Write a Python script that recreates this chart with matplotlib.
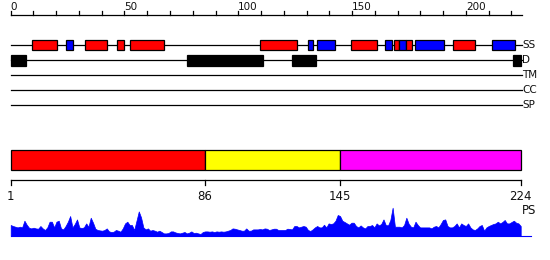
import numpy as np
import matplotlib
matplotlib.use("Agg")
import matplotlib.pyplot as plt
from matplotlib.patches import Rectangle

# secondary structure: (start, end, kind)  H = helix (red), E = strand (blue)
ss_start = [9.5, 24.4, 32.8, 46.8, 52.5, 109.7, 130.8, 134.7, 149.6, 164.6, 168.5, 170.6, 173.8, 177.8, 194.5, 211.6]
ss_end = [20.5, 27.5, 42.4, 49.6, 67.5, 125.6, 132.7, 142.6, 160.8, 167.7, 170.6, 173.8, 176.5, 190.5, 203.9, 221.7]
ss_kind = ["H", "E", "H", "H", "H", "H", "E", "E", "H", "E", "H", "E", "H", "E", "H", "E"]

# disordered regions
dis_start = [0, 77.6, 123.7, 220.7]
dis_end = [6.6, 110.7, 134.0, 224.0]

tracks = ["SS", "D", "TM", "CC", "SP"]

# position segments
seg_bounds = [1, 86, 145, 224]
seg_colors = ["#ff0000", "#ffff00", "#ff00ff"]

# PS score per residue (1..224)
ps_score = [
    10.7, 9.7, 9.0, 8.3, 9.0, 8.3, 15.0, 11.0, 8.0, 7.3,
    8.0, 7.3, 7.0, 9.7, 7.3, 5.7, 8.3, 14.0, 14.0, 8.3,
    14.0, 15.0, 7.3, 6.3, 9.7, 14.0, 19.7, 8.3, 11.7, 16.3,
    8.3, 7.7, 8.3, 12.3, 9.0, 18.0, 13.0, 7.0, 5.7, 5.3,
    5.0, 5.7, 7.3, 4.3, 3.7, 4.0, 5.7, 5.0, 4.0, 7.3,
    12.3, 14.0, 10.7, 10.7, 5.7, 15.0, 24.3, 18.3, 8.3, 6.3,
    7.3, 5.0, 5.7, 5.0, 4.0, 5.0, 3.7, 2.3, 2.3, 2.7,
    4.3, 4.3, 3.3, 2.7, 2.3, 3.0, 3.7, 2.3, 3.0, 4.3,
    2.7, 3.0, 2.3, 1.7, 3.7, 4.3, 4.3, 4.0, 4.3, 3.7,
    4.3, 4.0, 4.3, 4.0, 4.3, 5.0, 5.7, 7.3, 7.0, 6.3,
    5.7, 5.0, 5.0, 7.3, 5.0, 5.0, 6.3, 6.3, 6.3, 6.7,
    6.3, 7.3, 7.0, 5.7, 6.3, 7.0, 7.0, 5.7, 5.7, 5.7,
    5.7, 7.0, 6.7, 6.3, 9.7, 9.7, 8.3, 9.0, 9.7, 9.0,
    5.7, 4.7, 6.3, 8.3, 9.7, 8.3, 8.3, 11.0, 8.3, 12.3,
    11.7, 12.3, 15.0, 20.7, 19.7, 15.0, 13.7, 12.3, 11.0, 13.0,
    13.0, 9.7, 8.3, 10.3, 8.3, 7.3, 9.7, 9.7, 10.7, 8.3,
    12.3, 10.3, 11.7, 16.3, 10.7, 10.3, 15.7, 28.0, 9.0, 9.0,
    9.0, 8.3, 10.7, 18.0, 12.0, 9.0, 8.3, 14.0, 10.7, 8.3,
    8.3, 8.3, 8.3, 8.3, 7.3, 9.0, 9.7, 8.3, 11.7, 15.7,
    16.3, 9.7, 8.3, 8.3, 9.7, 12.3, 8.3, 12.3, 10.7, 9.7,
    12.3, 8.3, 6.3, 5.7, 7.3, 9.7, 10.7, 5.0, 8.3, 9.7,
    10.7, 11.7, 12.3, 14.0, 12.3, 13.7, 15.7, 12.3, 12.3, 13.7,
    15.0, 13.0, 12.3, 9.7,
]
residues = np.arange(1, len(ps_score) + 1)

fig = plt.figure(figsize=(5.5, 2.6), dpi=100)
ax = fig.add_axes([0, 0, 1, 1])
ax.set_xlim(-4.70, 236.96)
ax.set_ylim(260, 0)
ax.axis("off")

lw = 0.9
txt = "#111111"

# ruler on top
ax.plot([0, 224.5], [14.7, 14.7], color="black", lw=lw)
for t in range(0, 221, 10):
    ax.plot([t, t], [10.8, 14.7], color="black", lw=lw)
for t in range(0, 201, 50):
    ax.text(t, 10, str(t), ha="left", va="baseline", fontsize=7.5, color=txt)

# tracks
track_y = [45, 60, 75, 90, 105]
for name, y in zip(tracks, track_y):
    ax.plot([0, 224.5], [y, y], color="black", lw=lw, zorder=1)
    ax.text(224.8, y, name, ha="left", va="center", fontsize=7.5, color=txt)

ss_colors = {"H": "#ff0000", "E": "#0000ff"}
for s, e, k in zip(ss_start, ss_end, ss_kind):
    ax.add_patch(Rectangle((s, 40.3), e - s, 10, facecolor=ss_colors[k],
                           edgecolor="black", lw=lw, zorder=2))
for s, e in zip(dis_start, dis_end):
    ax.add_patch(Rectangle((s, 55), e - s, 10.5, facecolor="black",
                           edgecolor="black", lw=lw, zorder=2))

# lower part uses residue numbering 1..224
bx = fig.add_axes([0, 0, 1, 1])
bx.set_xlim(-3.68, 236.81)
bx.set_ylim(260, 0)
bx.axis("off")

for i, c in enumerate(seg_colors):
    bx.add_patch(Rectangle((seg_bounds[i], 150.3), seg_bounds[i + 1] - seg_bounds[i], 20,
                           facecolor=c, edgecolor="black", lw=lw))
bx.plot([seg_bounds[0], seg_bounds[-1]], [180.3, 180.3], color="black", lw=lw)
for b in seg_bounds:
    bx.plot([b, b], [180.3, 185], color="black", lw=lw)
    bx.text(b, 199.5, str(b), ha="center", va="baseline", fontsize=8.5, color=txt)

base = 235.7
bx.fill_between(residues, base, base - np.array(ps_score), color="#0000ff", lw=0.5)
bx.plot([1, 228.5], [base, base], color="#0000ff", lw=0.8)
bx.text(224.5, 210.5, "PS", ha="left", va="center", fontsize=8.5, color=txt)

fig.savefig("out.png", dpi=100)
